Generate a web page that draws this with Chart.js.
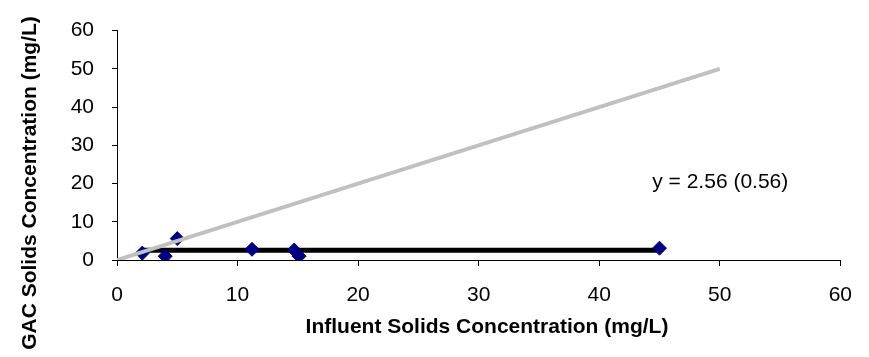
<!DOCTYPE html>
<html>
<head>
<meta charset="utf-8">
<script src="https://cdn.jsdelivr.net/npm/chart.js@4/dist/chart.umd.min.js"></script>
<style>
  html, body { margin: 0; padding: 0; background: #fff; }
  #wrap { width: 869px; height: 357px; }
</style>
</head>
<body>
<div id="wrap"><canvas id="chart" width="869" height="357"></canvas></div>
<script>
// data
const influent = [2.1, 4.0, 5.0, 11.2, 14.7, 15.1, 45.0];
const gacSolids = [1.8, 1.0, 5.6, 2.8, 2.6, 1.0, 3.1];
const meanValue = 2.56;
const meanLabel = 'y = 2.56 (0.56)';
const unityLine = [0, 50];
const axisTicks = [0, 10, 20, 30, 40, 50, 60];
const xTitle = 'Influent Solids Concentration (mg/L)';
const yTitle = 'GAC Solids Concentration (mg/L)';

const font = 'Liberation Sans, Arial, sans-serif';
const labelPos = { x: 44.4, y: 18.9 };

const points = influent.map((x, i) => ({ x, y: gacSolids[i] }));
const meanLine = [
  { x: Math.min(...influent), y: meanValue },
  { x: Math.max(...influent), y: meanValue }
];

// titles and equation text
const textPlugin = {
  id: 'texts',
  afterDraw(chart) {
    const c = chart.ctx;
    const sx = chart.scales.x, sy = chart.scales.y;
    c.save();
    c.fillStyle = '#000';
    c.font = `bold 21px ${font}`;
    c.textAlign = 'center';
    c.textBaseline = 'alphabetic';
    c.fillText(xTitle, 487, 333);
    c.translate(36, 183);
    c.rotate(-Math.PI / 2);
    c.fillText(yTitle, 0, 0);
    c.restore();

    c.save();
    c.fillStyle = '#000';
    c.font = `21px ${font}`;
    c.textAlign = 'left';
    c.textBaseline = 'alphabetic';
    c.fillText(meanLabel, sx.getPixelForValue(labelPos.x), sy.getPixelForValue(labelPos.y));
    c.restore();
  }
};

const axisOpts = (fit) => ({
  type: 'linear',
  min: axisTicks[0],
  max: axisTicks[axisTicks.length - 1],
  afterBuildTicks: s => { s.ticks = axisTicks.map(v => ({ value: v })); },
  afterFit: fit,
  border: { display: true, color: '#000', width: 1 },
  grid: { drawOnChartArea: false, drawTicks: true, tickLength: 6, color: '#000', lineWidth: 1 },
  ticks: { color: '#000', font: { family: font, size: 21 } }
});

const xAxis = axisOpts(s => { s.height = 97; });
xAxis.ticks.padding = 17;
xAxis.ticks.maxRotation = 0;
const yAxis = axisOpts(s => { s.width = 117; });
yAxis.ticks.padding = 18;
yAxis.grid.tickLength = 5;

new Chart(document.getElementById('chart'), {
  type: 'scatter',
  data: {
    datasets: [
      {
        data: unityLine.map(v => ({ x: v, y: v })),
        showLine: true,
        borderColor: '#c0c0c0',
        borderWidth: 4,
        pointRadius: 0,
        order: 1
      },
      {
        data: points,
        backgroundColor: '#000080',
        borderColor: '#000080',
        borderWidth: 1,
        pointStyle: 'rectRot',
        pointRadius: 7,
        order: 2
      },
      {
        data: meanLine,
        showLine: true,
        borderColor: '#000',
        borderWidth: 5,
        pointRadius: 0,
        order: 3
      }
    ]
  },
  options: {
    responsive: false,
    animation: false,
    layout: { padding: { top: 18, right: 28, left: 0, bottom: 0 } },
    plugins: { legend: { display: false }, tooltip: { enabled: false } },
    scales: { x: xAxis, y: yAxis }
  },
  plugins: [textPlugin]
});
</script>
</body>
</html>
